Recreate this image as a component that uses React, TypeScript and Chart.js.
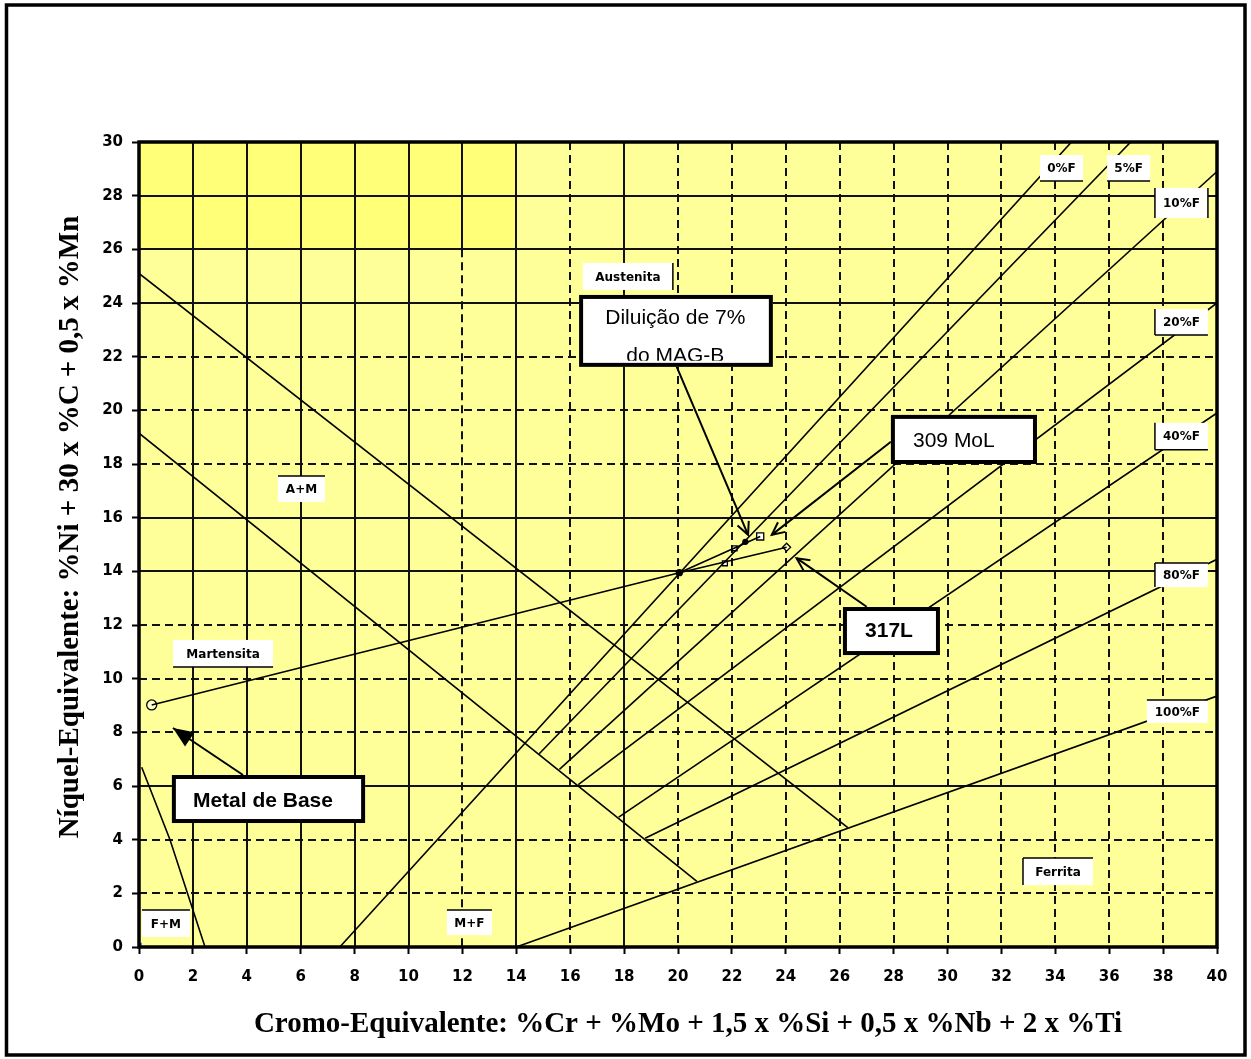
import React, { useEffect, useRef } from 'react';
import { Chart, registerables } from 'chart.js';

Chart.register(...registerables);

// ---------------- data ----------------
const xTickValues = [0, 2, 4, 6, 8, 10, 12, 14, 16, 18, 20, 22, 24, 26, 28, 30, 32, 34, 36, 38, 40];
const yTickValues = [0, 2, 4, 6, 8, 10, 12, 14, 16, 18, 20, 22, 24, 26, 28, 30];
const solidGridX = [2, 4, 6, 8, 10, 14, 18];
const solidGridY = [6, 14, 16, 24, 26, 28];
const partialSolidX = [{ value: 12, from: 26, to: 30 }];

const ferrite0 = [{ x: 7.45, y: 0 }, { x: 34.6, y: 30 }];
const ferrite5 = [{ x: 14.85, y: 7.2 }, { x: 36.8, y: 30 }];
const ferrite10 = [{ x: 15.6, y: 6.62 }, { x: 40, y: 28.9 }];
const ferrite20 = [{ x: 16.3, y: 6.05 }, { x: 40, y: 24.0 }];
const ferrite40 = [{ x: 17.8, y: 4.84 }, { x: 40, y: 19.9 }];
const ferrite80 = [{ x: 18.78, y: 4.05 }, { x: 40, y: 14.45 }];
const ferrite100 = [{ x: 14.0, y: 0 }, { x: 40, y: 9.35 }];
const martensiteUpper = [{ x: 0, y: 25.1 }, { x: 26.3, y: 4.45 }];
const martensiteLower = [{ x: 0, y: 19.15 }, { x: 20.7, y: 2.45 }];
const ferriteMartensite = [{ x: 0.1, y: 6.7 }, { x: 1.15, y: 4.0 }, { x: 2.45, y: 0 }];
const baseToJunction = [{ x: 0.47, y: 9.02 }, { x: 20.05, y: 13.95 }];
const junctionTo309 = [{ x: 20.05, y: 13.95 }, { x: 23.05, y: 15.3 }];
const junctionTo317 = [{ x: 20.05, y: 13.95 }, { x: 24.03, y: 14.9 }];

const baseMetalPoint = [{ x: 0.47, y: 9.02 }];
const mol309Point = [{ x: 23.05, y: 15.3 }];
const l317Point = [{ x: 24.03, y: 14.9 }];
const dilutionPoints = [{ x: 21.74, y: 14.3 }, { x: 22.1, y: 14.86 }];
const dilution7Point = [{ x: 22.5, y: 15.1 }];
const junctionPoint = [{ x: 20.05, y: 13.95 }];
const originPoint = [{ x: 0, y: 0 }];

const xTitle = 'Cromo-Equivalente: %Cr + %Mo + 1,5 x %Si + 0,5 x %Nb + 2 x %Ti';
const yTitle = 'Níquel-Equivalente: %Ni + 30 x %C + 0,5 x %Mn';

// region / iso-ferrite labels (centre in data units)
const regionLabels = [
  { text: 'Austenita', x: 18.14, y: 24.99, w: 90, h: 27, sides: ['right'] },
  { text: 'A+M', x: 6.03, y: 17.07, w: 47, h: 26, sides: ['top'] },
  { text: 'Martensita', x: 3.12, y: 10.94, w: 100, h: 27, sides: ['bottom'] },
  { text: 'F+M', x: 1.0, y: 0.88, w: 48, h: 27, sides: ['top'] },
  { text: 'M+F', x: 12.26, y: 0.91, w: 45, h: 25, sides: ['top'] },
  { text: 'Ferrita', x: 34.1, y: 2.81, w: 70, h: 27, sides: ['left', 'top'] },
  { text: '0%F', x: 34.23, y: 29.03, w: 43, h: 26, sides: ['bottom'] },
  { text: '5%F', x: 36.72, y: 29.03, w: 43, h: 26, sides: ['bottom'] },
  { text: '10%F', x: 38.68, y: 27.73, w: 53, h: 30, sides: ['left', 'right'] },
  { text: '20%F', x: 38.68, y: 23.29, w: 53, h: 26, sides: ['left', 'bottom'] },
  { text: '40%F', x: 38.68, y: 19.03, w: 53, h: 27, sides: ['left', 'bottom'] },
  { text: '80%F', x: 38.68, y: 13.86, w: 53, h: 24, sides: ['left', 'top'] },
  { text: '100%F', x: 38.53, y: 8.78, w: 61, h: 23, sides: ['top'] },
];

const callouts = [
  {
    lines: ['Diluição de 7%', 'do MAG-B'], bold: false, align: 'center',
    x1: 16.33, x2: 23.52, y1: 24.3, y2: 21.62, tx: 19.9, ty: [23.2, 21.8],
    from: { x: 19.95, y: 21.63 }, to: { x: 22.6, y: 15.36 }, head: 'open',
  },
  {
    lines: ['309 MoL'], bold: false, align: 'left',
    x1: 27.9, x2: 33.32, y1: 19.83, y2: 18.0, tx: 28.72, ty: [18.65],
    from: { x: 27.9, y: 18.83 }, to: { x: 23.48, y: 15.36 }, head: 'open',
  },
  {
    lines: ['317L'], bold: true, align: 'left',
    x1: 26.12, x2: 29.72, y1: 12.67, y2: 10.88, tx: 26.94, ty: [11.57],
    from: { x: 27.0, y: 12.68 }, to: { x: 24.4, y: 14.49 }, head: 'open',
  },
  {
    lines: ['Metal de Base'], bold: true, align: 'left',
    x1: 1.22, x2: 8.39, y1: 6.41, y2: 4.62, tx: 2.0, ty: [5.23],
    from: { x: 3.86, y: 6.41 }, to: { x: 1.26, y: 8.16 }, head: 'filled',
  },
];

// ---------------- drawing plugin ----------------
const diagramPlugin = {
  id: 'diagram',
  beforeDatasetsDraw(chart: any) {
    const { ctx, chartArea, scales } = chart;
    const { left, right, top, bottom } = chartArea;
    const sx = scales.x, sy = scales.y;
    ctx.save();
    ctx.fillStyle = '#FFFF99';
    ctx.fillRect(left, top, right - left, bottom - top);
    ctx.fillStyle = '#FFFF78';
    const hx2 = sx.getPixelForValue(14), hy2 = sy.getPixelForValue(26);
    ctx.fillRect(left, top, hx2 - left, hy2 - top);

    const line = (x1: number, y1: number, x2: number, y2: number, dashed: boolean) => {
      ctx.beginPath();
      ctx.setLineDash(dashed ? [8, 5] : []);
      ctx.lineWidth = 2;
      ctx.strokeStyle = '#111';
      ctx.moveTo(x1, y1);
      ctx.lineTo(x2, y2);
      ctx.stroke();
    };
    // dashed first
    xTickValues.forEach((v) => {
      if (v === 0 || v === 40 || solidGridX.includes(v)) return;
      const p = Math.round(sx.getPixelForValue(v));
      const part = partialSolidX.find((q) => q.value === v);
      if (part) {
        line(p, sy.getPixelForValue(part.from), p, bottom, true);
      } else {
        line(p, top, p, bottom, true);
      }
    });
    yTickValues.forEach((v) => {
      if (v === 0 || v === 30 || solidGridY.includes(v)) return;
      const p = Math.round(sy.getPixelForValue(v));
      line(left, p, right, p, true);
    });
    xTickValues.forEach((v) => {
      const p = Math.round(sx.getPixelForValue(v));
      if (solidGridX.includes(v)) line(p, top, p, bottom, false);
      const part = partialSolidX.find((q) => q.value === v);
      if (part) line(p, sy.getPixelForValue(part.to), p, sy.getPixelForValue(part.from), false);
    });
    yTickValues.forEach((v) => {
      if (!solidGridY.includes(v)) return;
      const p = Math.round(sy.getPixelForValue(v));
      line(left, p, right, p, false);
    });
    ctx.restore();
  },
  afterDatasetsDraw(chart: any) {
    const { ctx, chartArea, scales } = chart;
    const { left, right, top, bottom } = chartArea;
    const sx = scales.x, sy = scales.y;
    const X = (v: number) => sx.getPixelForValue(v);
    const Y = (v: number) => sy.getPixelForValue(v);
    ctx.save();

    // region labels
    regionLabels.forEach((lb) => {
      const cx = X(lb.x), cy = Y(lb.y);
      const x0 = cx - lb.w / 2, y0 = cy - lb.h / 2;
      ctx.fillStyle = '#FFFFFF';
      ctx.fillRect(x0, y0, lb.w, lb.h);
      ctx.fillStyle = '#000';
      ctx.font = 'bold 12px "DejaVu Sans"';
      ctx.textAlign = 'center';
      ctx.textBaseline = 'middle';
      ctx.fillText(lb.text, cx, cy + 1);
      ctx.strokeStyle = '#000';
      ctx.lineWidth = 1.5;
      ctx.setLineDash([]);
      ctx.beginPath();
      lb.sides.forEach((s) => {
        if (s === 'top') { ctx.moveTo(x0, y0); ctx.lineTo(x0 + lb.w, y0); }
        if (s === 'bottom') { ctx.moveTo(x0, y0 + lb.h); ctx.lineTo(x0 + lb.w, y0 + lb.h); }
        if (s === 'left') { ctx.moveTo(x0, y0); ctx.lineTo(x0, y0 + lb.h); }
        if (s === 'right') { ctx.moveTo(x0 + lb.w, y0); ctx.lineTo(x0 + lb.w, y0 + lb.h); }
      });
      ctx.stroke();
    });

    // plot border
    ctx.strokeStyle = '#000';
    ctx.lineWidth = 3.5;
    ctx.strokeRect(left, top, right - left, bottom - top);

    // callouts
    callouts.forEach((c) => {
      const fx = X(c.from.x), fy = Y(c.from.y), tx = X(c.to.x), ty = Y(c.to.y);
      ctx.strokeStyle = '#000';
      ctx.fillStyle = '#000';
      ctx.lineWidth = 2;
      ctx.beginPath();
      ctx.moveTo(fx, fy);
      ctx.lineTo(tx, ty);
      ctx.stroke();
      const ang = Math.atan2(ty - fy, tx - fx);
      if (c.head === 'open') {
        const L = 14, a = 0.45;
        ctx.beginPath();
        ctx.moveTo(tx - L * Math.cos(ang - a), ty - L * Math.sin(ang - a));
        ctx.lineTo(tx, ty);
        ctx.lineTo(tx - L * Math.cos(ang + a), ty - L * Math.sin(ang + a));
        ctx.stroke();
      } else {
        const L = 22, a = 0.4;
        ctx.beginPath();
        ctx.moveTo(tx, ty);
        ctx.lineTo(tx - L * Math.cos(ang - a), ty - L * Math.sin(ang - a));
        ctx.lineTo(tx - L * Math.cos(ang + a), ty - L * Math.sin(ang + a));
        ctx.closePath();
        ctx.fill();
      }
      const bx = X(c.x1), by = Y(c.y1), bw = X(c.x2) - bx, bh = Y(c.y2) - by;
      ctx.fillStyle = '#FFFFFF';
      ctx.fillRect(bx, by, bw, bh);
      ctx.save();
      ctx.beginPath();
      ctx.rect(bx + 4, by + 4, bw - 8, bh - 10);
      ctx.clip();
      ctx.fillStyle = '#000';
      ctx.font = (c.bold ? 'bold ' : '') + '21px "Liberation Sans", Arial';
      ctx.textAlign = c.align as CanvasTextAlign;
      ctx.textBaseline = 'alphabetic';
      c.lines.forEach((t, i) => ctx.fillText(t, X(c.tx), Y(c.ty[i])));
      ctx.restore();
      ctx.lineWidth = 4;
      ctx.strokeStyle = '#000';
      ctx.strokeRect(bx + 2, by + 2, bw - 4, bh - 4);
    });
    ctx.restore();
  },
  afterDraw(chart: any) {
    const { ctx, chartArea } = chart;
    ctx.save();
    ctx.fillStyle = '#000';
    ctx.font = 'bold 29px "Liberation Serif", "Times New Roman", serif';
    ctx.textAlign = 'center';
    ctx.textBaseline = 'alphabetic';
    ctx.fillText(xTitle, 688, 1032);
    ctx.translate(78, 527);
    ctx.rotate(-Math.PI / 2);
    ctx.fillText(yTitle, 0, 0);
    ctx.restore();
    ctx.save();
    ctx.strokeStyle = '#000';
    ctx.lineWidth = 3.5;
    ctx.strokeRect(6.5, 5, 1238.5, 1050);
    ctx.restore();
  },
};

const lineDs = (label: string, data: any[]) => ({
  label, data, showLine: true, borderColor: '#000', borderWidth: 1.6,
  pointRadius: 0, fill: false, tension: 0,
});

const markerDs = (label: string, data: any[], style: string, r: number, bg: string, border = '#000', rot = 0) => ({
  label, data, showLine: false, pointStyle: style, pointRadius: r, pointRotation: rot,
  backgroundColor: bg, borderColor: border, borderWidth: 1.3,
});

export default function App() {
  const ref = useRef<HTMLCanvasElement | null>(null);
  useEffect(() => {
    document.body.style.margin = '0';
    document.body.style.overflow = 'hidden';
    const canvas = ref.current;
    if (!canvas) return;
    const tickFont = { family: '"DejaVu Sans"', weight: 'bold' as const, size: 15 };
    const chart = new Chart(canvas, {
      type: 'scatter',
      data: {
        datasets: [
          lineDs('0%F', ferrite0),
          lineDs('5%F', ferrite5),
          lineDs('10%F', ferrite10),
          lineDs('20%F', ferrite20),
          lineDs('40%F', ferrite40),
          lineDs('80%F', ferrite80),
          lineDs('100%F', ferrite100),
          lineDs('M sup', martensiteUpper),
          lineDs('M inf', martensiteLower),
          lineDs('F+M', ferriteMartensite),
          lineDs('Base-junção', baseToJunction),
          lineDs('junção-309', junctionTo309),
          lineDs('junção-317', junctionTo317),
          markerDs('Metal de Base', baseMetalPoint, 'circle', 5, '#FFFFCC'),
          markerDs('309 MoL', mol309Point, 'rect', 5, '#FFFFFF'),
          markerDs('317L', l317Point, 'rectRot', 4, '#FFFFCC'),
          markerDs('Diluição', dilutionPoints, 'rect', 3.5, '#FFFFFF'),
          markerDs('Diluição 7%', dilution7Point, 'circle', 2.5, '#000'),
          markerDs('Junção', junctionPoint, 'circle', 3, '#000'),
          markerDs('Origem', originPoint, 'triangle', 4, '#1f3fd0', '#1f3fd0', -90),
        ] as any,
      },
      options: {
        animation: false,
        responsive: false,
        maintainAspectRatio: false,
        layout: { padding: { left: 0, top: 142, right: 34, bottom: 0 } },
        plugins: { legend: { display: false }, tooltip: { enabled: false } },
        scales: {
          x: {
            type: 'linear', min: 0, max: 40,
            afterBuildTicks: (s: any) => { s.ticks = xTickValues.map((v) => ({ value: v })); },
            afterFit: (s: any) => { s.height = 112; },
            grid: { drawOnChartArea: false, drawTicks: true, tickLength: 7, tickWidth: 2, tickColor: '#000' },
            border: { display: false },
            ticks: { font: tickFont, color: '#000', padding: 14, autoSkip: false, maxRotation: 0 },
          },
          y: {
            type: 'linear', min: 0, max: 30,
            afterBuildTicks: (s: any) => { s.ticks = yTickValues.map((v) => ({ value: v })); },
            afterFit: (s: any) => { s.width = 139; },
            grid: { drawOnChartArea: false, drawTicks: true, tickLength: 7, tickWidth: 2, tickColor: '#000' },
            border: { display: false },
            ticks: { font: tickFont, color: '#000', padding: 9, autoSkip: false },
          },
        },
      } as any,
      plugins: [diagramPlugin],
    });
    return () => chart.destroy();
  }, []);
  return (
    <div style={{ width: 1251, height: 1059, background: '#fff' }}>
      <canvas ref={ref} width={1251} height={1059} style={{ display: 'block' }} />
    </div>
  );
}
